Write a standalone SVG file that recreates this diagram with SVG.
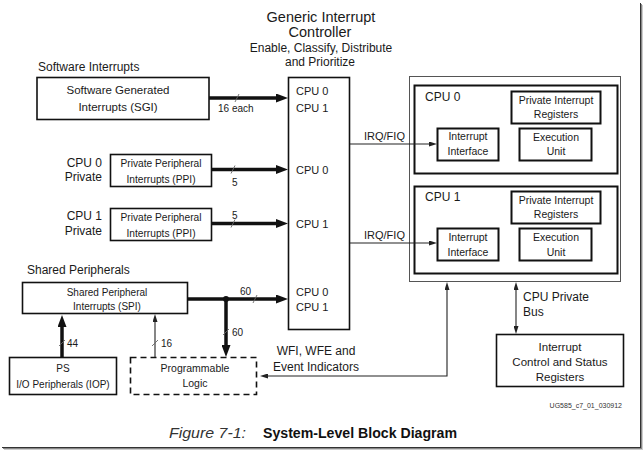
<svg xmlns="http://www.w3.org/2000/svg" width="644" height="451" viewBox="0 0 644 451">
<defs>
<style>
text{font-family:"Liberation Sans",Arial,sans-serif;fill:#1a1a1a}
.t12{font-size:12px}
.t11{font-size:11px}
.t105{font-size:10.5px}
.t10{font-size:10px}
.c{text-anchor:middle}
.box{fill:#fff;stroke:#111;stroke-width:1.6}
.ibox{fill:#fff;stroke:#111;stroke-width:2}
.thin{fill:none;stroke:#222;stroke-width:1.1}
.thick{fill:none;stroke:#111;stroke-width:3.5}
.tick{stroke:#666;stroke-width:0.9}
</style>
<marker id="ah" viewBox="0 0 12 9" refX="1" refY="4.5" markerWidth="12" markerHeight="9" markerUnits="userSpaceOnUse" orient="auto"><path d="M0,0 L12,4.5 L0,9 z" fill="#111"/></marker>
<marker id="as" viewBox="0 0 8 5" refX="1" refY="2.5" markerWidth="8" markerHeight="5" markerUnits="userSpaceOnUse" orient="auto-start-reverse"><path d="M0,0 L8,2.5 L0,5 z" fill="#222"/></marker>
</defs>
<rect width="644" height="451" fill="#fff"/>

<!-- frame shadow -->
<g id="frame">
<line x1="640.5" y1="3" x2="640.5" y2="448" stroke="#333" stroke-width="1"/>
<line x1="641.5" y1="4" x2="641.5" y2="449" stroke="#888" stroke-width="1"/>
<line x1="642.5" y1="5" x2="642.5" y2="450" stroke="#ccc" stroke-width="1"/>
<line x1="2" y1="447.5" x2="641" y2="447.5" stroke="#333" stroke-width="1"/>
<line x1="3" y1="448.5" x2="642" y2="448.5" stroke="#888" stroke-width="1"/>
<line x1="4" y1="449.5" x2="643" y2="449.5" stroke="#ccc" stroke-width="1"/>
</g>

<g id="gic">
<text x="321" y="22" class="c" style="font-size:14.5px">Generic Interrupt</text>
<text x="320" y="37" class="c" style="font-size:14.5px">Controller</text>
<text x="321" y="52" class="c t12">Enable, Classify, Distribute</text>
<text x="320" y="66" class="c t12">and Prioritize</text>
<rect x="288.5" y="77.5" width="61" height="252" class="box"/>
<text x="296" y="95" class="t11">CPU 0</text>
<text x="296" y="112" class="t11">CPU 1</text>
<text x="296" y="174" class="t11">CPU 0</text>
<text x="296" y="228" class="t11">CPU 1</text>
<text x="296" y="296" class="t11">CPU 0</text>
<text x="296" y="311" class="t11">CPU 1</text>
</g>

<g id="sgi">
<text x="38" y="71" class="t12">Software Interrupts</text>
<rect x="37" y="77.5" width="172" height="42" class="box"/>
<text x="118" y="94" class="c" style="font-size:11.5px">Software Generated</text>
<text x="118" y="111" class="c" style="font-size:11.5px">Interrupts (SGI)</text>
</g>

<g id="ppi0">
<text x="102" y="167" class="t12" text-anchor="end">CPU 0</text>
<text x="102" y="181" class="t12" text-anchor="end">Private</text>
<rect x="110.5" y="154.5" width="101" height="32" class="box" stroke-width="1.3"/>
<text x="161" y="167" class="c" style="font-size:10.2px">Private Peripheral</text>
<text x="161" y="183" class="c" style="font-size:10.2px">Interrupts (PPI)</text>
</g>

<g id="ppi1">
<text x="102" y="220" class="t12" text-anchor="end">CPU 1</text>
<text x="102" y="235" class="t12" text-anchor="end">Private</text>
<rect x="110.5" y="208.5" width="101" height="32" class="box" stroke-width="1.3"/>
<text x="161" y="221" class="c" style="font-size:10.2px">Private Peripheral</text>
<text x="161" y="237" class="c" style="font-size:10.2px">Interrupts (PPI)</text>
</g>

<g id="spi">
<text x="27" y="274" class="t12">Shared Peripherals</text>
<rect x="22.5" y="282.5" width="165" height="31" class="box"/>
<text x="107" y="296" class="c t10">Shared Peripheral</text>
<text x="107" y="310" class="c t10">Interrupts (SPI)</text>
</g>

<g id="iop">
<rect x="9.5" y="357.5" width="107" height="37" class="box"/>
<text x="63" y="372" class="c t10">PS</text>
<text x="63" y="388" class="c t10">I/O Peripherals (IOP)</text>
</g>

<g id="pl">
<rect x="130.5" y="357.5" width="126" height="37" fill="#fff" stroke="#111" stroke-width="1.6" stroke-dasharray="6,4"/>
<text x="195" y="372" class="c t105">Programmable</text>
<text x="195" y="387" class="c t105">Logic</text>
</g>

<g id="cpus">
<rect x="409.5" y="76.5" width="211" height="205" fill="#fff" stroke="#555" stroke-width="1"/>
</g>

<g id="cpu0">
<rect x="414.5" y="85.5" width="203" height="88" class="ibox"/>
<text x="425" y="101" class="t12">CPU 0</text>
<rect x="511.5" y="91.5" width="89" height="32" class="ibox"/>
<text x="556" y="104" class="c t105">Private Interrupt</text>
<text x="556" y="118" class="c t105">Registers</text>
<rect x="437.5" y="128.5" width="61" height="32" class="ibox"/>
<text x="468" y="140" class="c t105">Interrupt</text>
<text x="468" y="155" class="c t105">Interface</text>
<rect x="519.5" y="128.5" width="72" height="32" class="ibox"/>
<text x="556" y="141" class="c t105">Execution</text>
<text x="556" y="155" class="c t105">Unit</text>
</g>

<g id="cpu1">
<rect x="414.5" y="186.5" width="203" height="87" class="ibox"/>
<text x="425" y="201" class="t12">CPU 1</text>
<rect x="511.5" y="191.5" width="89" height="32" class="ibox"/>
<text x="556" y="204" class="c t105">Private Interrupt</text>
<text x="556" y="218" class="c t105">Registers</text>
<rect x="437.5" y="228.5" width="61" height="32" class="ibox"/>
<text x="468" y="241" class="c t105">Interrupt</text>
<text x="468" y="256" class="c t105">Interface</text>
<rect x="519.5" y="228.5" width="72" height="32" class="ibox"/>
<text x="556" y="241" class="c t105">Execution</text>
<text x="556" y="256" class="c t105">Unit</text>
</g>

<g id="icsr">
<rect x="496.5" y="334.5" width="127" height="52" class="box"/>
<text x="560" y="351" class="c" style="font-size:11.5px">Interrupt</text>
<text x="560" y="366" class="c" style="font-size:11.5px">Control and Status</text>
<text x="560" y="381" class="c" style="font-size:11.5px">Registers</text>
</g>

<g id="connectors">
<!-- SGI -->
<line x1="209" y1="98" x2="277" y2="98" class="thick" marker-end="url(#ah)"/>
<line x1="235" y1="102" x2="239" y2="94" class="tick"/>
<text x="218" y="112" class="t10">16 each</text>
<!-- PPI0 -->
<line x1="212" y1="169.5" x2="277" y2="169.5" class="thick" marker-end="url(#ah)"/>
<line x1="231" y1="173.5" x2="235" y2="165.5" class="tick"/>
<text x="232" y="186" class="t10">5</text>
<!-- PPI1 -->
<line x1="212" y1="223.5" x2="277" y2="223.5" class="thick" marker-end="url(#ah)"/>
<line x1="231" y1="227.5" x2="235" y2="219.5" class="tick"/>
<text x="232" y="219" class="t10">5</text>
<!-- SPI -->
<line x1="188" y1="299" x2="277" y2="299" class="thick" marker-end="url(#ah)"/>
<circle cx="226" cy="299" r="3" fill="#111"/>
<line x1="253" y1="303" x2="257" y2="295" class="tick"/>
<text x="240" y="295" class="t10">60</text>
<line x1="226" y1="299" x2="226" y2="346" class="thick" marker-end="url(#ah)"/>
<line x1="223" y1="335" x2="229" y2="329" class="tick"/>
<text x="232" y="336" class="t10">60</text>
<!-- IOP up -->
<line x1="62" y1="357" x2="62" y2="326" class="thick" marker-end="url(#ah)"/>
<line x1="59" y1="346" x2="65" y2="340" class="tick"/>
<text x="67" y="347" class="t10">44</text>
<!-- PL up -->
<line x1="155" y1="357" x2="155" y2="321" class="thin" marker-end="url(#as)"/>
<line x1="152" y1="346" x2="158" y2="340" class="tick"/>
<text x="161" y="347" class="t10">16</text>
<!-- IRQ/FIQ -->
<line x1="350" y1="144" x2="430" y2="144" class="thin" marker-end="url(#as)"/>
<text x="364" y="140" class="t11">IRQ/FIQ</text>
<line x1="350" y1="243" x2="430" y2="243" class="thin" marker-end="url(#as)"/>
<text x="364" y="239" class="t11">IRQ/FIQ</text>
<!-- WFI -->
<path d="M447,289 L447,376 L267,376" class="thin" marker-start="url(#as)" marker-end="url(#as)"/>
<text x="316" y="355" class="c t12">WFI, WFE and</text>
<text x="316" y="371" class="c t12">Event Indicators</text>
<!-- CPU private bus -->
<line x1="516" y1="289" x2="516" y2="327" class="thin" marker-start="url(#as)" marker-end="url(#as)"/>
<text x="523" y="301" class="t12">CPU Private</text>
<text x="523" y="316" class="t12">Bus</text>
</g>

<text x="622" y="408" text-anchor="end" style="font-size:7px;fill:#333">UG585_c7_01_030912</text>
<text x="169" y="438" style="font-size:14px;font-style:italic;fill:#333" textLength="77" lengthAdjust="spacingAndGlyphs">Figure 7-1:</text>
<text x="263" y="438" style="font-size:14px;font-weight:bold;fill:#111" textLength="194" lengthAdjust="spacingAndGlyphs">System-Level Block Diagram</text>
</svg>
